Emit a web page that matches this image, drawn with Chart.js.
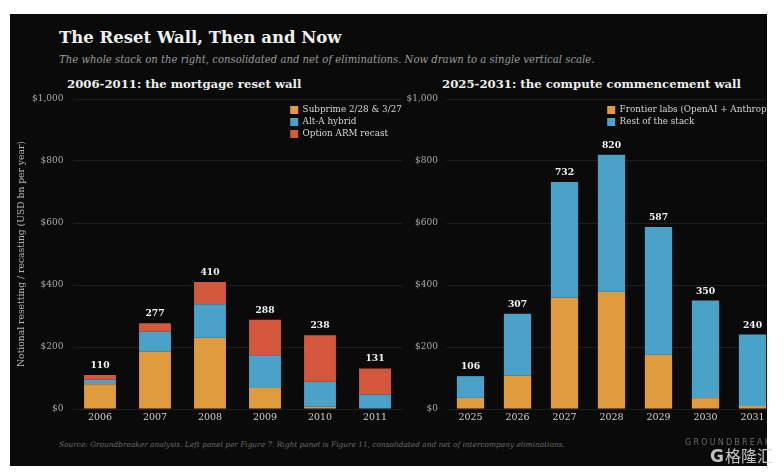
<!DOCTYPE html>
<html>
<head>
<meta charset="utf-8">
<script src="https://cdn.jsdelivr.net/npm/chart.js@4.4.1/dist/chart.umd.min.js"></script>
<style>
  html, body { margin: 0; padding: 0; background: #ffffff; width: 784px; height: 474px; overflow: hidden; }
  #frame { position: absolute; left: 10px; top: 14px; width: 757px; height: 452px; background: #0a0a0a; overflow: hidden; }
  .t { position: absolute; white-space: nowrap; line-height: 1; font-family: "DejaVu Serif", serif; }
  #title { left: 49px; top: 16px; font-size: 16.5px; font-weight: bold; color: #f0f0f0; }
  #subtitle { left: 49px; top: 41px; font-size: 10.1px; font-style: italic; color: #9a9a9a; }
  #ptl { left: 57px; top: 65px; font-size: 11.7px; font-weight: bold; color: #eeeeee; }
  #ptr { left: 432px; top: 65px; font-size: 11.7px; font-weight: bold; color: #eeeeee; }
  #source { left: 49px; top: 427px; font-size: 7.4px; font-style: italic; color: #6c6c6c; }
  #brand { position: absolute; left: 675px; top: 425px; font-family: "DejaVu Sans", sans-serif; font-size: 8px; letter-spacing: 2.2px; color: #6a6a6a; white-space: nowrap; line-height: 1; }
  #cl { position: absolute; left: 4px; top: 66px; }
  #cr { position: absolute; left: 390px; top: 66px; }
  #logo { position: absolute; left: 710px; top: 447px; font-size: 16px; line-height: 1; color: rgba(215,215,215,0.9); white-space: nowrap; font-family: "Noto Sans CJK SC", sans-serif; }
  #logo b { font-family: "DejaVu Sans", sans-serif; font-weight: bold; font-size: 17px; margin-right: 1px; }
</style>
</head>
<body>
<div id="frame">
  <div class="t" id="title">The Reset Wall, Then and Now</div>
  <div class="t" id="subtitle">The whole stack on the right, consolidated and net of eliminations. Now drawn to a single vertical scale.</div>
  <div class="t" id="ptl">2006-2011: the mortgage reset wall</div>
  <div class="t" id="ptr">2025-2031: the compute commencement wall</div>
  <canvas id="cl" width="396" height="350" style="width:396px;height:350px"></canvas>
  <canvas id="cr" width="410" height="350" style="width:410px;height:350px"></canvas>
  <div class="t" id="source">Source: Groundbreaker analysis. Left panel per Figure 7. Right panel is Figure 11, consolidated and net of intercompany eliminations.</div>
  <div id="brand">GROUNDBREAKER</div>
</div>
<div id="logo"><b>G</b>格隆汇</div>
<script>
// ---- Data ----
const leftYears = ['2006', '2007', '2008', '2009', '2010', '2011'];
const subprime  = [80, 185, 230, 68, 7, 2];
const altA      = [14, 64, 108, 105, 81, 45];
const optionARM = [16, 28, 72, 115, 150, 84];

const rightYears = ['2025', '2026', '2027', '2028', '2029', '2030', '2031'];
const frontier   = [36, 108, 360, 378, 175, 35, 10];
const restStack  = [70, 199, 372, 442, 412, 315, 230];

const yTicks = [0, 200, 400, 600, 800, 1000];

// ---- Styles ----
const ORANGE = '#e19b3f';
const BLUE = '#4aa2c9';
const RED = '#d4583b';
const SERIF = "'DejaVu Serif', serif";

Chart.defaults.font.family = SERIF;
Chart.defaults.animation = false;

const legendPos = {
  id: 'legendPos',
  afterLayout(chart, args, opts) {
    const l = chart.legend;
    if (!l) return;
    const h = l.height;
    l.left = opts.x; l.top = opts.y;
    l.right = chart.width + 400; l.bottom = l.top + h;
  }
};

const totalsLabels = {
  id: 'totalsLabels',
  afterDatasetsDraw(chart) {
    const ctx = chart.ctx;
    const ds = chart.data.datasets;
    const meta = chart.getDatasetMeta(ds.length - 1);
    const y = chart.scales.y;
    ctx.save();
    ctx.font = "bold 9.2px " + SERIF;
    ctx.fillStyle = '#f2f2f2';
    ctx.textAlign = 'center';
    ctx.textBaseline = 'alphabetic';
    chart.data.labels.forEach((_, i) => {
      const total = ds.reduce((s, d) => s + d.data[i], 0);
      const bar = meta.data[i];
      ctx.fillText(String(total), bar.x, y.getPixelForValue(total) - 7);
    });
    ctx.restore();
  }
};

function makeChart(id, labels, datasets, opts) {
  return new Chart(document.getElementById(id), {
    type: 'bar',
    data: { labels, datasets },
    plugins: [legendPos, totalsLabels],
    options: {
      responsive: false,
      maintainAspectRatio: false,
      devicePixelRatio: 1,
      layout: { padding: { top: 19, right: opts.padRight, left: 0, bottom: 0 } },
      datasets: { bar: { categoryPercentage: 1, barPercentage: 0.58, borderWidth: 0 } },
      plugins: {
        legend: {
          position: 'chartArea',
          align: 'start',
          labels: { boxWidth: 8, boxHeight: 8, padding: 3.2, color: '#d6d6d6', font: { size: 8.8, family: SERIF } }
        },
        legendPos: { x: opts.legendX, y: 22.4 },
        tooltip: { enabled: false },
        title: { display: false }
      },
      scales: {
        x: {
          stacked: true,
          grid: { display: false, drawTicks: false },
          border: { display: false },
          ticks: { color: '#d0d0d0', font: { size: 9.5, family: SERIF }, padding: 3 },
          afterFit: (s) => { s.height = 21; }
        },
        y: {
          stacked: true,
          min: 0, max: 1000,
          afterBuildTicks: (s) => { s.ticks = yTicks.map(v => ({ value: v })); },
          grid: { color: '#1e1e1e', lineWidth: 1, drawTicks: false },
          border: { display: false },
          ticks: {
            color: '#a8a8a8', font: { size: 9, family: SERIF }, padding: 9,
            callback: (v) => '$' + Number(v).toLocaleString('en-US')
          },
          title: {
            display: opts.showYTitle,
            text: 'Notional resetting / recasting (USD bn per year)',
            color: '#b4b4b4', font: { size: 9.2, family: SERIF }, padding: { top: 2, bottom: 0 }
          },
          afterFit: (s) => { s.width = opts.yWidth; }
        }
      }
    }
  });
}

makeChart('cl', leftYears, [
  { label: 'Subprime 2/28 & 3/27', data: subprime, backgroundColor: ORANGE },
  { label: 'Alt-A hybrid', data: altA, backgroundColor: BLUE },
  { label: 'Option ARM recast', data: optionARM, backgroundColor: RED }
], { padRight: 7.5, yWidth: 58.5, legendX: 273, showYTitle: true });

makeChart('cr', rightYears, [
  { label: 'Frontier labs (OpenAI + Anthropic)', data: frontier, backgroundColor: ORANGE },
  { label: 'Rest of the stack', data: restStack, backgroundColor: BLUE }
], { padRight: 34, yWidth: 47, legendX: 204, showYTitle: false });
</script>
</body>
</html>
